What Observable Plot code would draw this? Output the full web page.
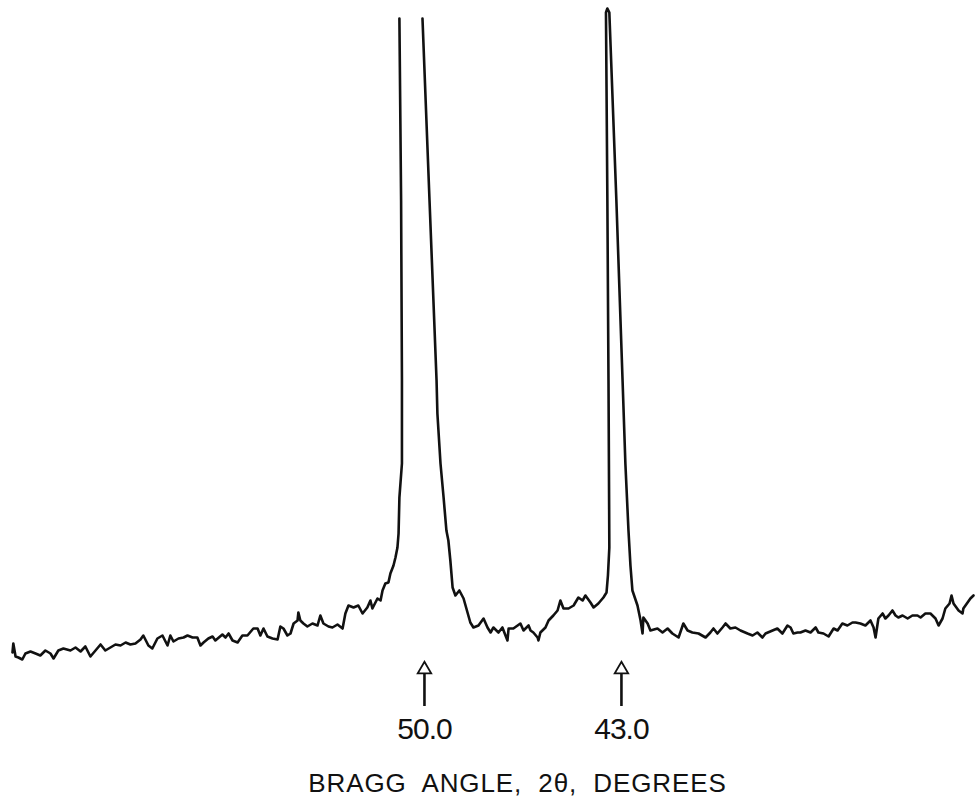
<!DOCTYPE html>
<html>
<head>
<meta charset="utf-8">
<script src="https://cdn.jsdelivr.net/npm/d3@7"></script>
<script src="https://cdn.jsdelivr.net/npm/@observablehq/plot@0.6"></script>
<style>
  html, body { margin: 0; padding: 0; background: #fff; }
  #chart svg { display: block; }
</style>
</head>
<body>
<div id="chart"></div>
<script>
// Diffractometer trace: Bragg angle 2θ (degrees) and intensity (arbitrary counts).
// null = pen off scale (top of the strong peak near 50.5°).
const twoTheta = [
  64.64, 64.61, 64.53, 64.43, 64.29, 64.18, 64.00, 63.82, 63.65, 63.47,
  63.29, 63.18, 63.01, 62.83, 62.58, 62.40, 62.22, 62.05, 61.87, 61.69,
  61.51, 61.34, 61.16, 60.98, 60.80, 60.62, 60.45, 60.27, 60.09, 59.99,
  59.81, 59.67, 59.49, 59.31, 59.13, 59.03, 58.92, 58.74, 58.56, 58.42,
  58.24, 58.07, 57.96, 57.85, 57.68, 57.53, 57.43, 57.18, 57.07, 56.96,
  56.82, 56.64, 56.47, 56.29, 56.08, 55.93, 55.83, 55.72, 55.58, 55.40,
  55.22, 55.12, 55.01, 54.87, 54.76, 54.65, 54.51, 54.48, 54.41, 54.30,
  54.16, 53.98, 53.80, 53.70, 53.59, 53.41, 53.27, 53.09, 52.91, 52.81,
  52.70, 52.52, 52.35, 52.20, 52.03, 51.92, 51.85, 51.67, 51.56, 51.49,
  51.39, 51.28, 51.21, 51.10, 51.03, 50.96, 50.92, 50.89, 50.80, 50.80,
  50.83, 50.89, 50.50, 50.07, 49.82, 49.57, 49.54, 49.43, 49.32, 49.22,
  49.15, 49.08, 49.00, 48.90, 48.76, 48.61, 48.47, 48.37, 48.26, 48.08,
  47.90, 47.76, 47.65, 47.55, 47.37, 47.23, 47.12, 47.05, 47.01, 46.84,
  46.69, 46.59, 46.48, 46.30, 46.23, 46.13, 45.98, 45.95, 45.88, 45.70,
  45.59, 45.42, 45.27, 45.17, 45.06, 44.88, 44.70, 44.53, 44.38, 44.28,
  44.10, 43.99, 43.82, 43.64, 43.53, 43.48, 43.43, 43.46, 43.50, 43.55,
  43.50, 43.43, 43.18, 42.96, 42.86, 42.75, 42.68, 42.61, 42.43, 42.32,
  42.25, 42.22, 42.07, 41.97, 41.72, 41.54, 41.36, 41.19, 40.97, 40.80,
  40.65, 40.48, 40.26, 40.01, 39.84, 39.73, 39.59, 39.41, 39.30, 39.13,
  38.95, 38.77, 38.52, 38.34, 38.17, 37.99, 37.88, 37.63, 37.46, 37.28,
  37.10, 36.99, 36.89, 36.74, 36.64, 36.46, 36.28, 36.10, 36.00, 35.82,
  35.64, 35.46, 35.32, 35.15, 34.97, 34.79, 34.68, 34.51, 34.33, 34.15,
  34.04, 33.97, 33.87, 33.72, 33.62, 33.51, 33.37, 33.26, 33.16, 33.01,
  32.83, 32.66, 32.48, 32.37, 32.20, 32.02, 31.84, 31.73, 31.59, 31.49,
  31.34, 31.27, 31.20, 31.02, 30.88, 30.85, 30.70, 30.60, 30.49
];
const intensity = [
  118, 136, 110, 108, 104, 116, 120, 116, 112, 122,
  116, 106, 122, 126, 122, 128, 120, 130, 110, 122,
  134, 122, 128, 134, 132, 138, 134, 136, 144, 152,
  132, 126, 146, 152, 132, 152, 140, 146, 148, 152,
  148, 148, 132, 138, 146, 150, 142, 154, 148, 156,
  142, 138, 152, 152, 166, 166, 152, 166, 150, 146,
  144, 170, 166, 152, 156, 176, 182, 198, 182, 176,
  170, 176, 172, 192, 176, 170, 168, 174, 166, 196,
  212, 208, 212, 196, 208, 222, 206, 226, 222, 242,
  256, 258, 276, 292, 308, 328, 356, 428, 496, 662,
  1022, 1386, null, 1386, 1022, 662, 596, 496, 428, 362,
  342, 302, 248, 232, 242, 226, 198, 178, 168, 172,
  186, 168, 158, 168, 158, 168, 152, 142, 166, 166,
  172, 176, 162, 172, 162, 158, 148, 142, 158, 168,
  182, 192, 202, 222, 206, 206, 212, 228, 222, 232,
  218, 208, 216, 228, 238, 272, 328, 662, 1022, 1398,
  1406, 1398, 1022, 662, 496, 362, 292, 242, 212, 182,
  156, 188, 176, 162, 166, 158, 166, 156, 148, 176,
  162, 158, 156, 148, 158, 166, 156, 168, 176, 166,
  168, 162, 156, 152, 158, 148, 156, 162, 166, 156,
  172, 168, 156, 158, 158, 162, 158, 168, 158, 156,
  150, 166, 162, 176, 172, 178, 178, 176, 172, 182,
  168, 148, 186, 196, 186, 192, 202, 192, 188, 192,
  186, 192, 192, 188, 196, 196, 186, 172, 186, 206,
  216, 232, 216, 202, 196, 206, 218, 226, 232
];
const markedAngles = [50.0, 43.0];
const axisTitle = "BRAGG ANGLE, 2θ, DEGREES";

const trace = twoTheta.map((t, i) => ({twoTheta: t, counts: intensity[i]}));

const chart = Plot.plot({
  width: 976,
  height: 811,
  marginLeft: 10,
  marginRight: 4,
  marginTop: 0,
  marginBottom: 100,
  style: {background: "#fff", fontFamily: "'Liberation Sans', Arial, sans-serif", color: "#111"},
  x: {domain: [64.71, 30.525], axis: null},
  y: {domain: [0, 1422], axis: null},
  marks: [
    Plot.line(trace, {x: "twoTheta", y: "counts", stroke: "#111", strokeWidth: 2.6, strokeLinejoin: "round", strokeLinecap: "round"}),
    Plot.ruleX(markedAngles, {x: d => d, y1: 10, y2: 77, stroke: "#111", strokeWidth: 2.6}),
    Plot.dot(markedAngles, {x: d => d, y: 84, symbol: "triangle", r: 5, fill: "#fff", stroke: "#111", strokeWidth: 1.8}),
    Plot.axisX(markedAngles, {tickSize: 0, tickPadding: 6, tickFormat: d => d.toFixed(1), fontSize: 30, fill: "#111", label: null}),
    Plot.text([axisTitle], {text: d => d, frameAnchor: "bottom", dy: 80, dx: 26, fontSize: 26, fill: "#111"})
  ]
});
document.getElementById("chart").appendChild(chart);

// lettering spacing tweaks to mimic the hand-lettered labels
d3.select(chart).selectAll("text").each(function () {
  const t = this.textContent;
  if (t === axisTitle) {
    this.style.letterSpacing = "0.9px";
    this.style.wordSpacing = "8px";
  } else if (markedAngles.some(a => a.toFixed(1) === t)) {
    this.style.letterSpacing = "-1px";
  }
});
</script>
</body>
</html>
